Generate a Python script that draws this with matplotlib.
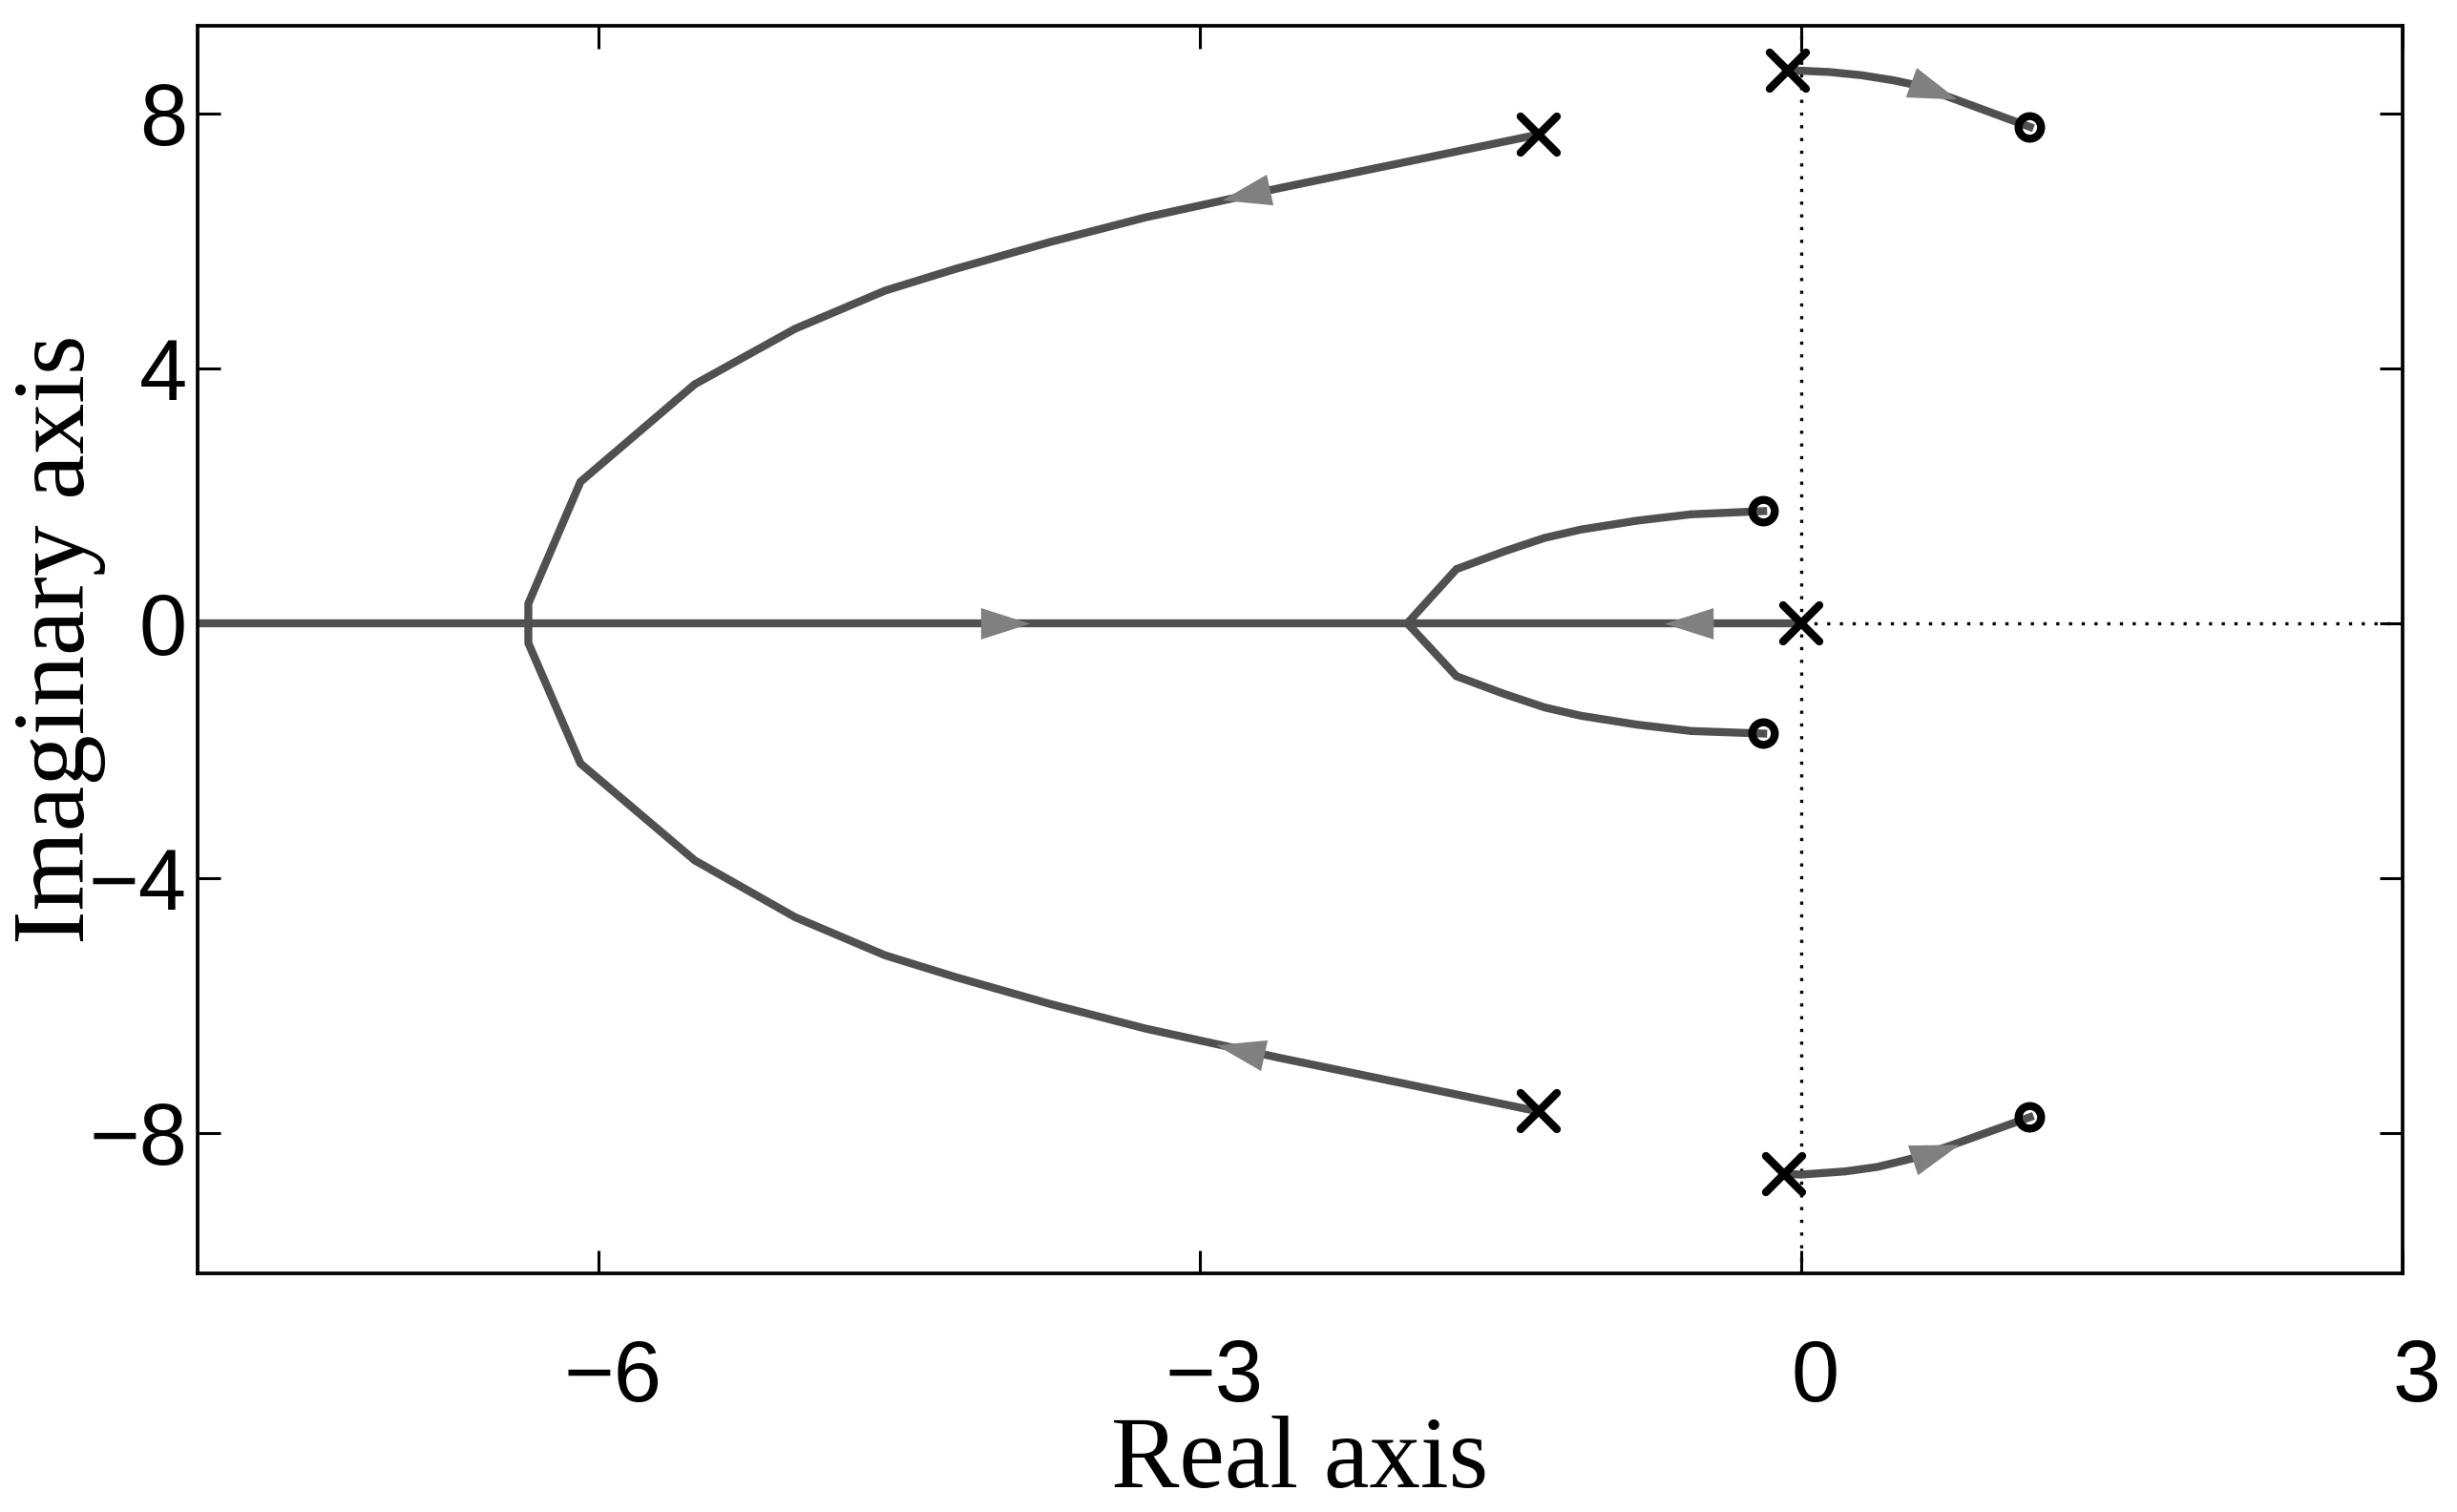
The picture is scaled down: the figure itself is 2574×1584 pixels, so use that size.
import numpy as np
import matplotlib
matplotlib.use("Agg")
import matplotlib.pyplot as plt
from matplotlib.markers import MarkerStyle
from matplotlib.transforms import Affine2D, ScaledTranslation

# ── 数据：根轨迹各分支 ────────────────────────────────────────────────
big_up_x = [-1.31, -2.00, -2.60, -3.27, -3.75, -4.22, -4.57, -5.02, -5.52, -6.09, -6.35, -6.35]
big_up_y = [7.67, 7.22, 6.83, 6.37, 5.98, 5.56, 5.22, 4.62, 3.75, 2.22, 0.31, 0.0]
big_lo_x = [-1.31, -2.00, -2.60, -3.27, -3.75, -4.22, -4.57, -5.02, -5.52, -6.09, -6.35, -6.35]
big_lo_y = [-7.66, -7.21, -6.82, -6.36, -5.97, -5.55, -5.21, -4.61, -3.72, -2.20, -0.31, 0.0]

inner_up_x = [-1.965, -1.72, -1.48, -1.28, -1.10, -0.82, -0.55, -0.19]
inner_up_y = [0.0, 0.85, 1.13, 1.34, 1.47, 1.61, 1.71, 1.76]
inner_lo_x = [-1.965, -1.72, -1.48, -1.28, -1.10, -0.82, -0.55, -0.19]
inner_lo_y = [0.0, -0.83, -1.11, -1.32, -1.45, -1.59, -1.69, -1.73]

right_up_x = [-0.067, 0.0, 0.14, 0.30, 0.46, 0.58, 1.14]
right_up_y = [8.67, 8.67, 8.65, 8.60, 8.52, 8.44, 7.79]
right_lo_x = [-0.086, 0.0, 0.22, 0.38, 0.55, 0.74, 1.14]
right_lo_y = [-8.64, -8.65, -8.60, -8.53, -8.40, -8.20, -7.75]

real_x = [-8.0, -6.35, -1.965, 0.0]
real_y = [0.0, 0.0, 0.0, 0.0]

pole_x = [-1.31, -1.31, -0.067, -0.086, 0.0]
pole_y = [7.67, -7.66, 8.67, -8.64, 0.0]
zero_x = [1.14, 1.14, -0.19, -0.19]
zero_y = [7.79, -7.75, 1.76, -1.73]

# 方向箭头：位置 + 所在分支 + 沿分支的方向（+1 顺序 / -1 逆序）
arrow_x = [-2.77, -2.80, -3.97, -0.56, 0.66, 0.67]
arrow_y = [6.72, -6.70, 0.0, 0.0, 8.36, -8.30]
arrow_branch = ["big_up", "big_lo", "real", "real", "right_up", "right_lo"]
arrow_sign = [1, 1, 1, -1, 1, 1]

x_ticks = [-6, -3, 0, 3]
y_ticks = [8, 4, 0, -4, -8]

LINE_C = "#505050"
ARROW_C = "#808080"

branches = {
    "big_up": (big_up_x, big_up_y),
    "big_lo": (big_lo_x, big_lo_y),
    "inner_up": (inner_up_x, inner_up_y),
    "inner_lo": (inner_lo_x, inner_lo_y),
    "right_up": (right_up_x, right_up_y),
    "right_lo": (right_lo_x, right_lo_y),
    "real": (real_x, real_y),
}

# ── 布局 ─────────────────────────────────────────────────────────────────────
W, H = 2574, 1584
fig = plt.figure(figsize=(W / 100, H / 100), dpi=100)
ax = fig.add_axes([207 / W, 1 - 1334 / H, (2517 - 207) / W, (1334 - 26.7) / H])
ax.set_xlim(-8, 3)
ax.set_ylim(-10.2, 9.38)

# 虚线坐标轴
ax.axvline(0, color="black", lw=2.4, dashes=(1, 3), zorder=1)
ax.axhline(0, color="black", lw=2.4, dashes=(1, 3), zorder=1)

for name, (bx, by) in branches.items():
    ax.plot(bx, by, color=LINE_C, lw=6, solid_joinstyle="miter", zorder=2)

# 箭头（在显示坐标中求切线方向）
tri = [(1, 0), (-1, 0.64), (-1, -0.64)]
for xa, ya, br, sg in zip(arrow_x, arrow_y, arrow_branch, arrow_sign):
    bx, by = np.asarray(branches[br][0]), np.asarray(branches[br][1])
    pts = ax.transData.transform(np.column_stack([bx, by]))
    p = ax.transData.transform([[xa, ya]])[0]
    best, d = None, np.inf
    for i in range(len(pts) - 1):
        a, b = pts[i], pts[i + 1]
        seg = b - a
        L2 = seg @ seg
        if L2 == 0:
            continue
        t = np.clip((p - a) @ seg / L2, 0, 1)
        dist = np.linalg.norm(a + t * seg - p)
        if dist < d:
            d, best = dist, seg
    ang = np.degrees(np.arctan2(best[1], best[0])) + (0 if sg > 0 else 180)
    m = MarkerStyle(tri, transform=Affine2D().rotate_deg(ang))
    ax.plot([xa], [ya], marker=m, ms=37, color=ARROW_C, mew=0, ls="none", zorder=3)

# 极点 / 零点
xm = MarkerStyle("x", capstyle="round")
ax.plot(pole_x, pole_y, ls="none", marker=xm, ms=28, mew=6, color="black", zorder=4)
ax.plot(zero_x, zero_y, ls="none", marker="o", ms=17, mew=6, mfc="none",
        mec="black", zorder=4)

# ── 坐标轴样式 ────────────────────────────────────────────────────────────────
ax.set_xticks(x_ticks)
ax.set_yticks(y_ticks)
ax.tick_params(axis="both", direction="in", length=17, width=2.2,
               top=True, right=True, labelsize=65)
ax.tick_params(axis="x", pad=49)
ax.tick_params(axis="y", pad=8)
for lab in ax.get_xticklabels() + ax.get_yticklabels():
    lab.set_fontfamily("Liberation Sans")
# MATLAB 的 x 刻度标签略偏右
shift = ScaledTranslation(15 / 100, 0, fig.dpi_scale_trans)
for lab in ax.get_xticklabels():
    lab.set_transform(lab.get_transform() + shift)
for sp in ax.spines.values():
    sp.set_linewidth(2.7)

ax.set_xlabel("Real axis", fontsize=77, family="Liberation Serif")
ax.xaxis.set_label_coords(0.5, -0.1713)
ax.xaxis.label.set_verticalalignment("baseline")
ax.set_ylabel("Imaginary axis", fontsize=77, family="Liberation Serif")
ax.yaxis.set_label_coords(-0.0515, 0.508)
ax.yaxis.label.set_verticalalignment("baseline")

fig.savefig("out.png", dpi=100)
